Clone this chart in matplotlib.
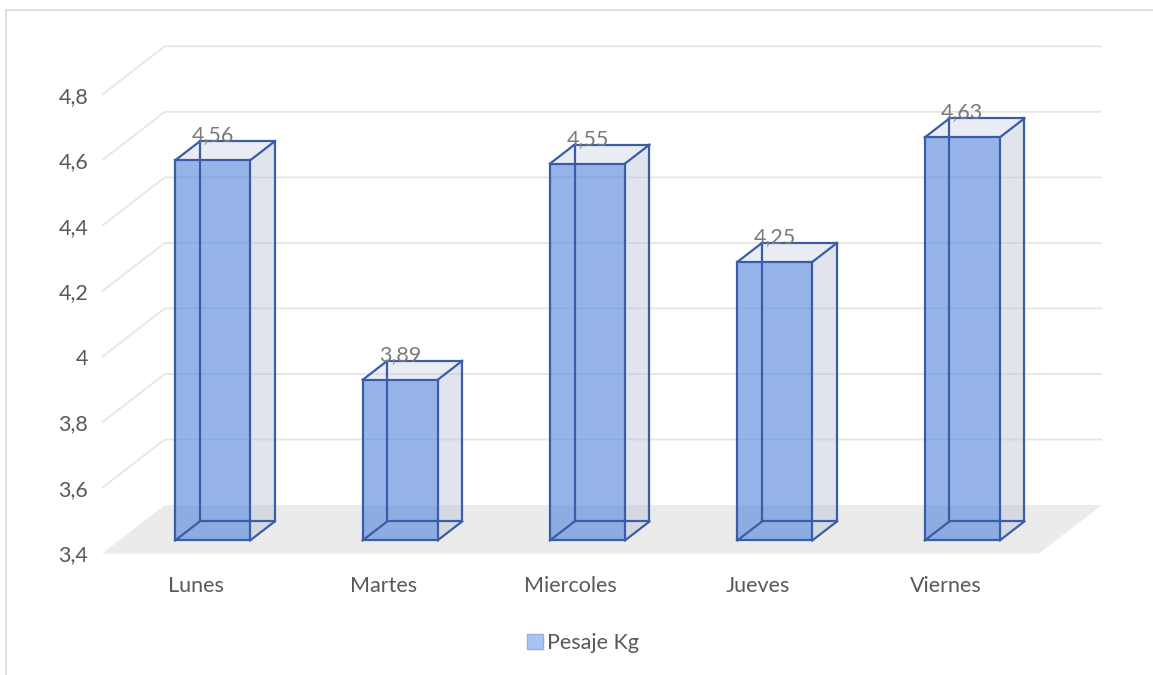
import matplotlib.pyplot as plt
from matplotlib.patches import Polygon, Patch
from matplotlib.lines import Line2D
import numpy as np

#---------------------------------- data ----------------------------------
dias = ['Lunes', 'Martes', 'Miercoles', 'Jueves', 'Viernes']
pesaje = [4.56, 3.89, 4.55, 4.25, 4.63]
ticks = [3.4, 3.6, 3.8, 4.0, 4.2, 4.4, 4.6, 4.8]
tick_labels = ['3,4', '3,6', '3,8', '4', '4,2', '4,4', '4,6', '4,8']
serie = 'Pesaje Kg'

#---------------------------------- style ---------------------------------
plt.rcParams['font.family'] = ['Lato', 'DejaVu Sans']
TXT = '#595959'
EDGE = '#3a5da8'
GRID = '#e6e6e6'
FLOOR = '#ebebeb'
FS = 15.5

# oblique "3d" projection: depth 0 (front) .. 1 (back wall)
DX = 0.335    # x shift (category units) for full depth
DY = 0.148    # y shift (value units) for full depth
D0, D1 = 0.27, 0.66   # depth range of the columns
HALF = 0.2            # half width of column
BASE = ticks[0]


def P(x, v, d):
    return (x + DX * d, v + DY * d)


fig = plt.figure(figsize=(11.53, 6.75), dpi=100)
ax = fig.add_axes([0.0885, 0.18, 0.8777, 0.7524])
ax.set_xlim(-0.5, 4.9)
ax.set_ylim(BASE, 4.95)
for s in ax.spines.values():
    s.set_visible(False)

# floor
n = len(dias)
floor = Polygon([P(-0.5, BASE, 0), P(n - 0.5, BASE, 0),
                 P(n - 0.5, BASE, 1), P(-0.5, BASE, 1)],
                closed=True, fc=FLOOR, ec='none', zorder=0, clip_on=False)
ax.add_patch(floor)

# back wall gridlines + left diagonals
for v in ticks[1:]:
    xs = [P(-0.5, v, 0)[0], P(-0.5, v, 1)[0], P(n - 0.5, v, 1)[0]]
    ys = [P(-0.5, v, 0)[1], P(-0.5, v, 1)[1], P(n - 0.5, v, 1)[1]]
    ax.plot(xs, ys, color=GRID, lw=1.3, zorder=1, clip_on=False,
            solid_capstyle='butt')

# columns
for i, v in enumerate(pesaje):
    x0, x1 = i - HALF, i + HALF
    front = [P(x0, BASE, D0), P(x1, BASE, D0), P(x1, v, D0), P(x0, v, D0)]
    side = [P(x1, BASE, D0), P(x1, BASE, D1), P(x1, v, D1), P(x1, v, D0)]
    top = [P(x0, v, D0), P(x1, v, D0), P(x1, v, D1), P(x0, v, D1)]
    ax.add_patch(Polygon(side, closed=True, fc='#b4bdd4', alpha=0.4,
                         ec='none', zorder=2, clip_on=False))
    ax.add_patch(Polygon(top, closed=True, fc='#b4bdd4', alpha=0.28,
                         ec='none', zorder=2, clip_on=False))
    ax.add_patch(Polygon(front, closed=True, fc='#4a7fdc', alpha=0.58,
                         ec='none', zorder=3, clip_on=False))
    # all 12 edges (wireframe look)
    for xa in [x0, x1]:
        for d in [D0, D1]:
            ax.plot([P(xa, BASE, d)[0], P(xa, v, d)[0]],
                    [P(xa, BASE, d)[1], P(xa, v, d)[1]],
                    color=EDGE, lw=1.6, zorder=4, clip_on=False)
    for h in [BASE, v]:
        for d in [D0, D1]:
            ax.plot([P(x0, h, d)[0], P(x1, h, d)[0]],
                    [P(x0, h, d)[1], P(x1, h, d)[1]],
                    color=EDGE, lw=1.6, zorder=4, clip_on=False)
        for xx in [x0, x1]:
            ax.plot([P(xx, h, D0)[0], P(xx, h, D1)[0]],
                    [P(xx, h, D0)[1], P(xx, h, D1)[1]],
                    color=EDGE, lw=1.6, zorder=4, clip_on=False)
    # data label
    lx = P(i, v, D0)[0]
    ly = P(i, v, D1)[1]
    ax.text(lx, ly, f'{v:.2f}'.replace('.', ','), ha='center', va='baseline',
            fontsize=FS, color='#7a7a7a', zorder=5)

# axes labels
ax.set_yticks(ticks)
ax.set_yticklabels(tick_labels)
ax.set_xticks(range(n))
ax.set_xticklabels(dias)
ax.tick_params(axis='y', length=0, pad=10, labelsize=FS, labelcolor=TXT)
ax.tick_params(axis='x', length=0, pad=16, labelsize=FS, labelcolor=TXT)

# legend
fig.legend(handles=[Patch(fc='#a9c4f4', ec='#8fb0e8', lw=1)], labels=[serie],
           loc='center', bbox_to_anchor=(583 / 1153, 1 - 643 / 675),
           frameon=False, handlelength=0.75, handleheight=0.75,
           handletextpad=0.2, fontsize=FS, labelcolor=TXT)

# chart border (top and left only visible)
fig.add_artist(Line2D([6 / 1153, 1], [1 - 10 / 675, 1 - 10 / 675],
                      color='#d9d9d9', lw=1.2))
fig.add_artist(Line2D([6 / 1153, 6 / 1153], [0, 1 - 10 / 675],
                      color='#d9d9d9', lw=1.2))

fig.savefig('out.png', dpi=100)
